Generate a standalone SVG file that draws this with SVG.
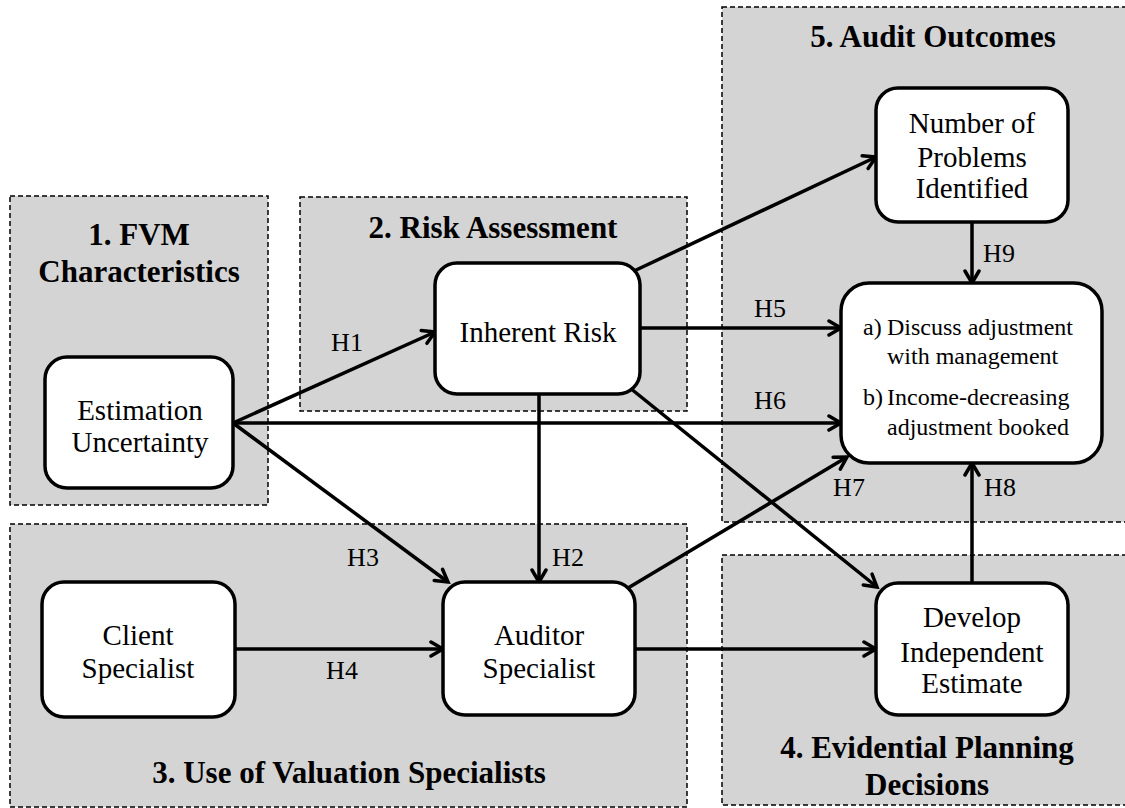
<svg xmlns="http://www.w3.org/2000/svg" width="1125" height="808" viewBox="0 0 1125 808">
<style>
.sec{fill:#d4d4d4;stroke:#000;stroke-width:1.5;stroke-dasharray:5,3}
.node{fill:#fff;stroke:#000;stroke-width:3.5}
.c{fill:none;stroke:#000;stroke-width:3.5;marker-end:url(#ah)}
text{font-family:"Liberation Serif","Times New Roman",serif;fill:#000}
.h{font-size:31px;font-weight:bold;text-anchor:middle}
.t{font-size:29px;text-anchor:middle}
.lb{font-size:26px;text-anchor:middle}
.o{font-size:24px}
</style>
<defs>
<marker id="ah" markerUnits="userSpaceOnUse" markerWidth="20" markerHeight="20" viewBox="0 0 20 20" refX="17" refY="10" orient="auto">
<path d="M5,3 L17,10 L5,17" fill="none" stroke="#000" stroke-width="3.5" stroke-linecap="round" stroke-linejoin="miter"/>
</marker>
</defs>
<rect width="1125" height="808" fill="#fff"/>
<g id="sections">
<g id="sec1"><rect class="sec" x="10" y="196" width="258" height="309"/>
<text class="h" x="139" y="245">1. FVM</text><text class="h" x="139" y="282">Characteristics</text></g>
<g id="sec2"><rect class="sec" x="300" y="197" width="387" height="214"/>
<text class="h" x="493" y="238">2. Risk Assessment</text></g>
<g id="sec3"><rect class="sec" x="10" y="524" width="677" height="283"/>
<text class="h" x="349" y="783">3. Use of Valuation Specialists</text></g>
<g id="sec4"><rect class="sec" x="722" y="555" width="410" height="250"/>
<text class="h" x="927" y="758">4. Evidential Planning</text><text class="h" x="927" y="795">Decisions</text></g>
<g id="sec5"><rect class="sec" x="722" y="7" width="410" height="515"/>
<text class="h" x="933" y="47">5. Audit Outcomes</text></g>
</g>
<g id="connectors">
<line class="c" x1="233" y1="423" x2="435" y2="332"/>
<line class="c" x1="233" y1="423" x2="841" y2="423"/>
<line class="c" x1="233" y1="423" x2="448" y2="582"/>
<line class="c" x1="539" y1="394" x2="539" y2="582"/>
<line class="c" x1="235" y1="649" x2="443" y2="649"/>
<line class="c" x1="635" y1="649" x2="876" y2="649"/>
<line class="c" x1="640" y1="328" x2="841" y2="328"/>
<line class="c" x1="634" y1="271" x2="876" y2="157"/>
<line class="c" x1="630" y1="388" x2="877" y2="587"/>
<line class="c" x1="628" y1="588" x2="847" y2="457"/>
<line class="c" x1="972" y1="583" x2="972" y2="463"/>
<line class="c" x1="972" y1="222" x2="972" y2="283"/>
<g id="labels">
<text class="lb" x="347" y="351">H1</text>
<text class="lb" x="568" y="566">H2</text>
<text class="lb" x="363" y="566">H3</text>
<text class="lb" x="342" y="679">H4</text>
<text class="lb" x="770" y="317">H5</text>
<text class="lb" x="770" y="409">H6</text>
<text class="lb" x="849" y="496">H7</text>
<text class="lb" x="1000" y="496">H8</text>
<text class="lb" x="999" y="262">H9</text>
</g>
</g>
<g id="n-estimation"><rect class="node" x="45" y="357" width="188" height="131" rx="22"/>
<text class="t" x="140" y="420">Estimation</text><text class="t" x="140" y="452">Uncertainty</text></g>
<g id="n-inherent"><rect class="node" x="435" y="263" width="205" height="131" rx="22"/>
<text class="t" x="538" y="342">Inherent Risk</text></g>
<g id="n-client"><rect class="node" x="42" y="582" width="193" height="135" rx="22"/>
<text class="t" x="138" y="645">Client</text><text class="t" x="138" y="678">Specialist</text></g>
<g id="n-auditor"><rect class="node" x="443" y="582" width="192" height="133" rx="22"/>
<text class="t" x="539" y="645">Auditor</text><text class="t" x="539" y="678">Specialist</text></g>
<g id="n-develop"><rect class="node" x="876" y="583" width="192" height="132" rx="22"/>
<text class="t" x="972" y="627">Develop</text><text class="t" x="972" y="662">Independent</text><text class="t" x="972" y="693">Estimate</text></g>
<g id="n-problems"><rect class="node" x="876" y="88" width="192" height="134" rx="22"/>
<text class="t" x="972" y="133">Number of</text><text class="t" x="972" y="167">Problems</text><text class="t" x="972" y="198">Identified</text></g>
<g id="n-outcome"><rect class="node" x="841" y="283" width="261" height="180" rx="28"/>
<text class="o" x="863" y="335">a)</text><text class="o" x="887" y="335">Discuss adjustment</text>
<text class="o" x="887" y="364">with management</text>
<text class="o" x="863" y="405">b)</text><text class="o" x="887" y="405">Income-decreasing</text>
<text class="o" x="887" y="435">adjustment booked</text></g>
</svg>
